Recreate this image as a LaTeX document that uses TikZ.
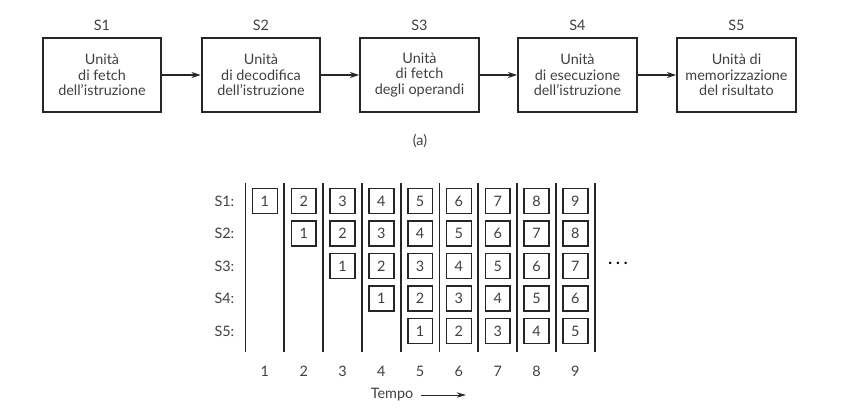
\documentclass[tikz,border=0pt]{standalone}
\usepackage{fontspec}
\setmainfont{Lato}
\usetikzlibrary{arrows.meta}

\begin{document}
\begin{tikzpicture}[x=0.75pt, y=-0.75pt,
                    every node/.style={text=black!75, font=\fontsize{10.8}{11.8}\selectfont},
                    unitbox/.style={draw=black!85, line width=1.4pt, minimum width=89pt,
                                    minimum height=55.5pt, align=center, inner sep=0pt},
                    slotbox/.style={draw=black!85, line width=1.2pt, minimum size=18.6pt,
                                    inner sep=0pt},
                    flow/.style={draw=black!85, line width=1pt, -{Stealth[length=7pt, width=4.5pt]}}]

    \useasboundingbox (0,0) rectangle (850,412);

    % Define units of the pipeline
    \node[unitbox] (U1) at (102,75) {Unità\\di fetch\\dell’istruzione};
    \node[unitbox] (U2) at (261,75) {Unità\\di decodifica\\dell’istruzione};
    \node[unitbox] (U3) at (419.5,75) {Unità\\di fetch\\degli operandi};
    \node[unitbox] (U4) at (577.5,75) {Unità\\di esecuzione\\dell’istruzione};
    \node[unitbox] (U5) at (736.5,75) {Unità di\\memorizzazione\\del risultato};

    % Stage names above the units
    \node (L1) at (102,25) {S1};
    \node (L2) at (261,25) {S2};
    \node (L3) at (419.5,25) {S3};
    \node (L4) at (577.5,25) {S4};
    \node (L5) at (736.5,25) {S5};

    % Define edges
    \path[flow] (U1) -- (U2);
    \path[flow] (U2) -- (U3);
    \path[flow] (U3) -- (U4);
    \path[flow] (U4) -- (U5);

    \node (capA) at (420,141) {(a)};

    % Time slots: separators and stage labels
    \foreach \k in {0,...,9}
        \draw[black!85, line width=1.3pt] (245.5+38.8*\k,183) -- (245.5+38.8*\k,352);
    \foreach \r/\y in {1/201,2/233.5,3/266,4/298.5,5/331}
        \node[anchor=east] (row\r) at (239,\y) {S\r:};

    % Instructions in each stage
    \foreach \c in {1,...,9}{
        \node (t\c) at (264.9+38.8*\c-38.8,371) {\c};
        \foreach \r/\y in {1/201,2/233.5,3/266,4/298.5,5/331}{
            \ifnum\c<\r\else
                \pgfmathtruncatemacro{\n}{\c-\r+1}
                \node[slotbox] (b\r\c) at (264.9+38.8*\c-38.8,\y) {\n};
            \fi
        }
    }
    \node[text=black] (more) at (618,263) {\fontseries{b}\selectfont\large .\hspace{3pt}.\hspace{3pt}.};

    % Time axis
    \node (tempo) at (392,395) {Tempo};
    \coordinate (tend) at (466,395);
    \draw[black!85, line width=0.6pt, -{Stealth[length=7pt, width=4pt]}] (tempo.east) ++(3,0) -- (tend);
\end{tikzpicture}
\end{document}
